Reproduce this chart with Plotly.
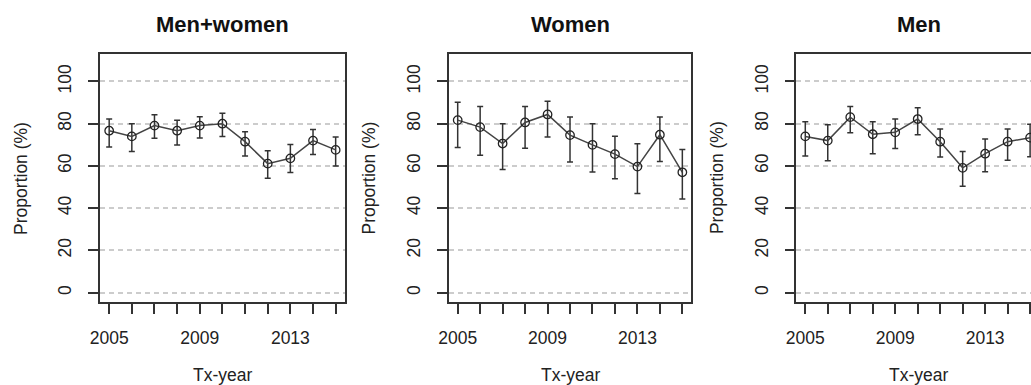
import plotly.graph_objects as go

years = list(range(2005, 2016))
x_tick_labels = ["2005", "", "", "", "2009", "", "", "", "2013", "", ""]
y_ticks = [0, 20, 40, 60, 80, 100]
panel_titles = ["Men+women", "Women", "Men"]
x_title = "Tx-year"
y_title = "Proportion (%)"

all_val = [76.7, 74.0, 79.1, 76.7, 79.1, 80.0, 71.5, 61.1, 63.6, 72.0, 67.6]
all_hi = [82.2, 80.0, 84.3, 81.6, 83.3, 84.9, 76.2, 67.2, 70.2, 77.3, 73.7]
all_lo = [69.0, 66.8, 73.1, 69.9, 73.2, 73.9, 64.7, 54.2, 56.9, 65.4, 60.0]

women_val = [81.7, 78.4, 70.6, 80.6, 84.4, 74.6, 70.0, 65.6, 59.7, 74.8, 57.0]
women_hi = [90.2, 88.1, 80.0, 88.1, 90.6, 83.2, 80.0, 74.1, 70.5, 83.2, 67.8]
women_lo = [68.7, 65.1, 58.3, 68.4, 73.7, 61.9, 57.1, 54.0, 47.0, 62.1, 44.4]

men_val = [74.0, 72.0, 83.1, 75.0, 75.9, 82.2, 71.5, 59.1, 65.8, 71.5, 73.4]
men_hi = [80.9, 79.5, 88.2, 80.9, 82.2, 87.6, 77.5, 66.9, 72.8, 77.5, 79.8]
men_lo = [64.7, 62.5, 75.7, 65.8, 68.3, 74.8, 64.3, 50.4, 57.3, 62.7, 64.4]

series = [(all_val, all_hi, all_lo), (women_val, women_hi, women_lo), (men_val, men_hi, men_lo)]

W, H = 1031, 385
boxes = [(91, 338), (443, 688), (794, 1031)]
x_ranges = [[2004.6, 2015.4], [2004.6, 2015.4], [2004.6, 2015.04]]
box_top, box_bot = 54, 302
y_range = [-4.4, 113]

FONT = "Liberation Sans, Arial, sans-serif"
INK = "#222222"
LINE = "#333333"

fig = go.Figure()
for i, (val, hi, lo) in enumerate(series):
    sfx = "" if i == 0 else str(i + 1)
    fig.add_trace(go.Scatter(
        x=years, y=val, mode="lines+markers",
        xaxis="x" + sfx, yaxis="y" + sfx,
        line=dict(color="#444444", width=1.5),
        marker=dict(symbol="circle-open", size=8.5, color=INK, line=dict(width=1.3, color=INK)),
        error_y=dict(type="data", symmetric=False,
                     array=[h - v for h, v in zip(hi, val)],
                     arrayminus=[v - l for v, l in zip(val, lo)],
                     color=LINE, thickness=1.5, width=3),
        showlegend=False, hoverinfo="skip",
    ))

layout = dict(
    width=W, height=H,
    margin=dict(l=0, r=0, t=0, b=0),
    paper_bgcolor="white", plot_bgcolor="white",
    font=dict(family=FONT, color=INK),
    showlegend=False,
    annotations=[],
)

ydom = [(H - box_bot) / H, (H - box_top) / H]
for i, (x0, x1) in enumerate(boxes):
    sfx = "" if i == 0 else str(i + 1)
    layout["xaxis" + sfx] = dict(
        domain=[x0 / W, x1 / W], range=x_ranges[i], anchor="y" + sfx,
        tickmode="array", tickvals=years, ticktext=x_tick_labels,
        ticks="outside", ticklen=10, tickwidth=1.5, tickcolor=LINE,
        showline=True, linecolor=LINE, linewidth=1.5, mirror=True,
        showgrid=False, zeroline=False,
        tickfont=dict(size=17.5, color=INK, family=FONT),
        ticklabelstandoff=9,
    )
    layout["yaxis" + sfx] = dict(
        domain=ydom, range=y_range, anchor="x" + sfx,
        tickmode="array", tickvals=y_ticks, ticktext=[str(t) for t in y_ticks],
        tickangle=-90,
        ticks="outside", ticklen=10, tickwidth=1.5, tickcolor=LINE,
        showline=True, linecolor=LINE, linewidth=1.5,
        mirror=(i < 2),
        showgrid=True, gridcolor="#cccccc", gridwidth=1.5, griddash="5px,4px",
        zeroline=False,
        tickfont=dict(size=17.5, color=INK, family=FONT),
        ticklabelstandoff=10,
    )
    cx = (x0 + (boxes[i][0] + 247 if i == 2 else x1)) / 2 / W
    layout["annotations"].append(dict(
        text="<b>" + panel_titles[i] + "</b>", xref="paper", yref="paper",
        x=cx, y=(H - 24) / H, xanchor="center", yanchor="middle",
        showarrow=False, font=dict(size=22, color="#111111", family=FONT)))
    layout["annotations"].append(dict(
        text=x_title, xref="paper", yref="paper",
        x=cx, y=(H - 375) / H, xanchor="center", yanchor="middle",
        showarrow=False, font=dict(size=17.5, color=INK, family=FONT)))
    layout["annotations"].append(dict(
        text=y_title, xref="paper", yref="paper", textangle=-90,
        x=(x0 - 80) / W, y=(H - 178) / H, xanchor="center", yanchor="middle",
        showarrow=False, font=dict(size=17.5, color=INK, family=FONT)))

fig.update_layout(**layout)
fig.write_html("out.html", config={"displayModeBar": False},
               post_script="document.body.style.margin='0';document.body.style.overflow='hidden';")
